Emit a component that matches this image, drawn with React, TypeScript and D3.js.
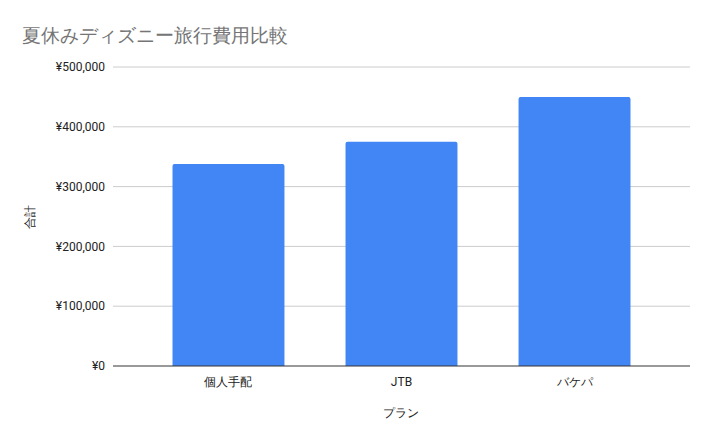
import * as d3 from 'd3';

const plans = ['個人手配', 'JTB', 'バケパ'];
const totals = [338000, 375000, 450000];
const yTicks = [0, 100000, 200000, 300000, 400000, 500000];

const W = 712;
const H = 441;
const left = 113;
const right = 690;
const top = 67;
const bottom = 366;

const App = () => {
  const x = d3
    .scaleBand()
    .domain(plans)
    .range([left, right])
    .paddingInner(0.353)
    .paddingOuter(0.344);

  const y = d3.scaleLinear().domain([0, 500000]).range([bottom, top]);

  const fmt = (v: number) => '¥' + d3.format(',')(v);
  const font = 'Roboto, Arial, sans-serif';
  const r = 2;

  const barPath = (x0: number, y0: number, w: number, h: number) =>
    `M${x0},${y0 + h}V${y0 + r}Q${x0},${y0} ${x0 + r},${y0}H${x0 + w - r}Q${x0 + w},${y0} ${x0 + w},${y0 + r}V${y0 + h}Z`;

  return (
    <svg width={W} height={H} style={{ position: 'absolute', left: 0, top: 0 }}>
      <rect width={W} height={H} fill="#fff" />
      <text x={22} y={42} fontSize={19} fill="#757575" fontFamily={font}>
        夏休みディズニー旅行費用比較
      </text>
      {yTicks.map(t => (
        <g key={t}>
          {t > 0 && (
            <line x1={left} x2={right} y1={y(t)} y2={y(t)} stroke="#cccccc" strokeWidth={1} />
          )}
          <text
            x={105}
            y={y(t)}
            dy="0.35em"
            textAnchor="end"
            fontSize={12}
            fill="#222"
            fontFamily={font}
          >
            {fmt(t)}
          </text>
        </g>
      ))}
      {plans.map((p, i) => (
        <path
          key={p}
          d={barPath(x(p) || 0, y(totals[i]), x.bandwidth(), bottom - y(totals[i]))}
          fill="#4285f4"
        />
      ))}
      <line x1={left} x2={right} y1={bottom} y2={bottom} stroke="#333" strokeWidth={1} />
      {plans.map(p => (
        <text
          key={p}
          x={(x(p) || 0) + x.bandwidth() / 2}
          y={386}
          textAnchor="middle"
          fontSize={12}
          fill="#222"
          fontFamily={font}
        >
          {p}
        </text>
      ))}
      <text x={401} y={417} textAnchor="middle" fontSize={12} fill="#222" fontFamily={font}>
        プラン
      </text>
      <text
        transform={`translate(34,${(top + bottom) / 2}) rotate(-90)`}
        textAnchor="middle"
        fontSize={12}
        fill="#222"
        fontFamily={font}
      >
        合計
      </text>
    </svg>
  );
};

export default App;
